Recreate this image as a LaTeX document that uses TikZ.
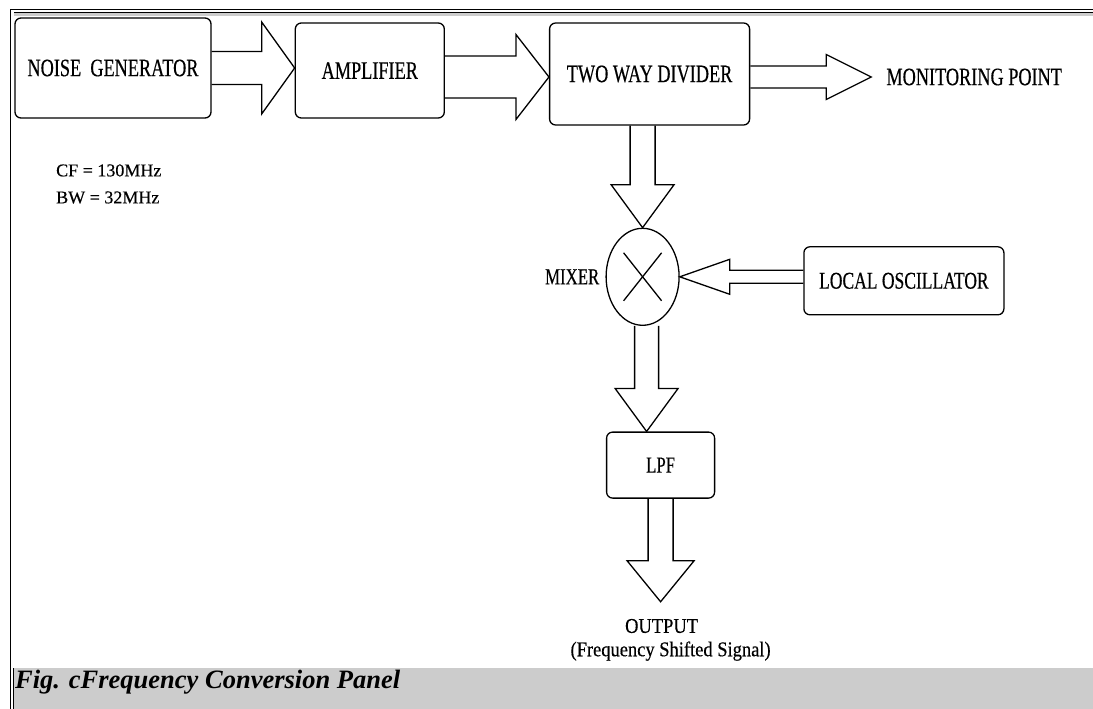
\documentclass[tikz,border=0pt]{standalone}
\usepackage{fontspec}
\setmainfont{Liberation Serif}
\newfontfamily\boxfont[FakeStretch=0.73,FakeBold=0.4]{Liberation Serif}
\newfontfamily\outfont[FakeStretch=0.88,FakeBold=0.4]{Liberation Serif}
\newfontfamily\specfont[FakeBold=0.4]{Liberation Serif}
\usetikzlibrary{calc,positioning,shapes.geometric}

% hollow block arrow: tail, tip, shaft half width, head half width, head length
\newcommand{\blockarrow}[5]{%
  \path (#1) coordinate (ba-tail) (#2) coordinate (ba-tip);
  \path ($(ba-tip)!#5!(ba-tail)$) coordinate (ba-head);
  \draw[hollow] ($(ba-tail)!#3!90:(ba-tip)$) -- ($(ba-head)!#3!90:(ba-tip)$)
    -- ($(ba-head)!#4!90:(ba-tip)$) -- (ba-tip) -- ($(ba-head)!#4!-90:(ba-tip)$)
    -- ($(ba-head)!#3!-90:(ba-tip)$) -- ($(ba-tail)!#3!-90:(ba-tip)$);
}

\tikzset{
  block/.style={draw, rounded corners=6pt, line width=1.3pt, inner sep=0pt},
  boxtext/.style={font=\boxfont\fontsize{25}{30}\selectfont, inner sep=0pt},
  outtext/.style={font=\outfont\fontsize{21}{25}\selectfont, inner sep=0pt},
  hollow/.style={draw, line width=1.3pt, line join=miter}
}

\begin{document}
\begin{tikzpicture}[x=1pt, y=-1pt, node distance=10pt]
  \useasboundingbox (0,0) rectangle (1093,709);
  % frame and caption
  \fill[gray!40] (14,13) rectangle (1093,16.5);
  \draw[line width=1pt] (10.5,709) -- (10.5,9.5) -- (1093,9.5);
  \draw[line width=0.8pt] (14,12.5) -- (1093,12.5);
  \fill[gray!40] (14,668) rectangle (1093,709);
  \draw[line width=0.8pt] (13.5,668) -- (13.5,709);
  \node (caption) [anchor=west, inner sep=0pt,
    font=\bfseries\itshape\fontsize{26.5}{30}\selectfont] at (15,682) {Fig. cFrequency Conversion Panel};

  % blocks
  \node (noise)   [block, boxtext, minimum width=196pt, minimum height=100pt] at (113,68) {NOISE\ \ GENERATOR};
  \node (amp)     [block, boxtext, minimum width=149pt, minimum height=95pt,
                   right=83pt of noise, yshift=-2.5pt] {AMPLIFIER\hspace{12pt}};
  \node (divider) [block, boxtext, minimum width=200pt, minimum height=102pt,
                   right=104pt of amp, yshift=-3.5pt] {TWO WAY DIVIDER};
  \node (monitor) [boxtext, right=136pt of divider, yshift=-3pt] {MONITORING POINT};
  \node (mixer)   [ellipse, draw, line width=1.3pt, inner sep=0pt, minimum width=73pt, minimum height=97pt,
                   below=102pt of divider, xshift=-7pt] {};
  \node (mixlabel) [boxtext, font=\boxfont\fontsize{23}{28}\selectfont, left=6pt of mixer] {MIXER};
  \node (lo)      [block, boxtext, font=\boxfont\fontsize{24}{28}\selectfont, minimum width=200pt, minimum height=68pt,
                   right=123.5pt of mixer, yshift=-4pt] {LOCAL OSCILLATOR};
  \node (lpf)     [block, boxtext, font=\boxfont\fontsize{23}{28}\selectfont, minimum width=108pt, minimum height=66pt,
                   below=105.5pt of mixer, xshift=18pt] {LPF};
  \node (output)  [outtext, below=120pt of lpf, xshift=1pt] {OUTPUT};
  \node (shifted) [outtext, below=8pt of output, xshift=9pt] {(Frequency Shifted Signal)};
  \node (specs)   [anchor=west, align=left, inner sep=0pt, font=\specfont\fontsize{18}{27}\selectfont] at (56,184)
                  {CF = 130MHz\\BW = 32MHz};

  % mixer cross
  \draw[line width=1.3pt] ($(mixer)+(-19,-24)$) -- ($(mixer)+(19,24)$);
  \draw[line width=1.3pt] ($(mixer)+(19,-24)$) -- ($(mixer)+(-19,24)$);

  % connectors
  \coordinate (amp-out) at ($(amp.east)+(0,6.5)$);
  \coordinate (div-out) at ($(divider.east)+(0,3)$);
  \coordinate (mix-out) at ($(mixer.south)+(4,0)$);
  \coordinate (out-tip) at ($(lpf.south)+(0,103)$);
  \blockarrow{noise.east}{noise.east -| amp.west}{16.5pt}{46pt}{33pt}
  \blockarrow{amp-out}{amp-out -| divider.west}{21pt}{42.5pt}{33pt}
  \blockarrow{div-out}{$(monitor.west)+(-15,0)$}{11pt}{22.5pt}{45pt}
  \blockarrow{divider.south -| mixer.north}{mixer.north}{12.5pt}{31.5pt}{43pt}
  \blockarrow{lo.west |- mixer.east}{mixer.east}{6.5pt}{17.5pt}{50pt}
  \blockarrow{mix-out}{mix-out |- lpf.north}{12pt}{31.5pt}{43pt}
  \blockarrow{lpf.south}{out-tip}{12.5pt}{33.5pt}{41pt}
\end{tikzpicture}
\end{document}
